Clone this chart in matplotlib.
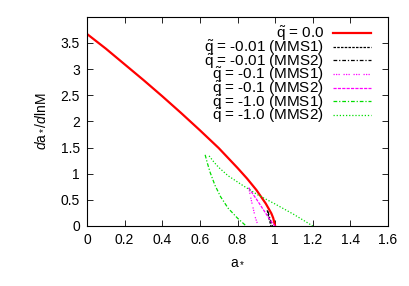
import matplotlib
matplotlib.use("Agg")
import matplotlib.pyplot as plt

plt.rcParams['font.family'] = ['Liberation Sans', 'DejaVu Sans']
plt.rcParams['mathtext.fontset'] = 'custom'
plt.rcParams['mathtext.rm'] = 'Liberation Sans'
plt.rcParams['mathtext.it'] = 'Liberation Sans:italic'

# q = 0.0
a_q0 = [0.0, 0.1, 0.2, 0.3, 0.4, 0.5, 0.6, 0.65, 0.7, 0.75, 0.8, 0.85, 0.9, 0.95, 0.98, 0.99, 1.0]
v_q0 = [3.67, 3.39, 3.09, 2.79, 2.48, 2.16, 1.83, 1.66, 1.49, 1.30, 1.11, 0.91, 0.69, 0.43, 0.24, 0.15, 0.0]

# q = -0.01
a_q001_m1 = [0.958, 0.965, 0.972, 0.978]
v_q001_m1 = [0.30, 0.18, 0.08, 0.0]
a_q001_m2 = [0.962, 0.970, 0.978, 0.986]
v_q001_m2 = [0.28, 0.17, 0.08, 0.0]

# q = -0.1
a_q01_m1 = [0.86, 0.868, 0.876, 0.885, 0.894, 0.91]
v_q01_m1 = [0.73, 0.58, 0.45, 0.31, 0.17, 0.0]
a_q01_m2 = [0.86, 0.88, 0.905, 0.925, 0.945, 0.965, 0.985, 1.0]
v_q01_m2 = [0.73, 0.62, 0.49, 0.38, 0.27, 0.16, 0.06, 0.0]

# q = -1.0
a_q1_m1 = [0.628, 0.64, 0.655, 0.68, 0.71, 0.75, 0.80, 0.846]
v_q1_m1 = [1.36, 1.20, 1.02, 0.78, 0.56, 0.34, 0.15, 0.0]
a_q1_m2 = [0.649, 0.675, 0.70, 0.75, 0.83, 0.91, 1.0, 1.1, 1.2]
v_q1_m2 = [1.34, 1.22, 1.12, 0.96, 0.77, 0.59, 0.42, 0.22, 0.0]

qt = r"$\tilde{\mathrm{q}}$"
labels = [f"{qt} = 0.0",
          f"{qt} = -0.01 (MMS1)", f"{qt} = -0.01 (MMS2)",
          f"{qt} = -0.1 (MMS1)", f"{qt} = -0.1 (MMS2)",
          f"{qt} = -1.0 (MMS1)", f"{qt} = -1.0 (MMS2)"]

fig = plt.figure(figsize=(4.09, 2.86), dpi=100)
ax = fig.add_axes([0.2127, 0.2098, 0.736, 0.7318])

ax.plot(a_q0, v_q0, color="#ff0000", lw=1.6, label=labels[0])
ax.plot(a_q001_m1, v_q001_m1, color="black", lw=0.9, ls=(0, (2, 1)), label=labels[1])
ax.plot(a_q001_m2, v_q001_m2, color="black", lw=0.9, ls=(0, (3, 1.5, 1, 1.5)), label=labels[2])
ax.plot(a_q01_m1, v_q01_m1, color="#ff00ff", lw=0.9, ls=(0, (1, 1, 1, 1, 1, 3)), label=labels[3])
ax.plot(a_q01_m2, v_q01_m2, color="#ff00ff", lw=0.9, ls=(0, (2.5, 1)), label=labels[4])
ax.plot(a_q1_m1, v_q1_m1, color="#00dd00", lw=0.9, ls=(0, (3, 1.5, 1, 1.5)), label=labels[5])
ax.plot(a_q1_m2, v_q1_m2, color="#00dd00", lw=0.9, ls=(0, (1, 1.5)), label=labels[6])

ax.set_xlim(0, 1.6)
ax.set_ylim(0, 4.0)
ax.set_xticks([0, 0.2, 0.4, 0.6, 0.8, 1.0, 1.2, 1.4, 1.6])
ax.set_xticklabels(["0", "0.2", "0.4", "0.6", "0.8", "1", "1.2", "1.4", "1.6"])
ax.set_yticks([0, 0.5, 1, 1.5, 2, 2.5, 3, 3.5])
ax.set_yticklabels(["0", "0.5", "1", "1.5", "2", "2.5", "3", "3.5"])
ax.tick_params(direction="in", top=True, right=True, labelsize=10, length=4, width=0.6, pad=5)
for s in ax.spines.values():
    s.set_linewidth(0.8)

ax.set_xlabel(r"a$_*$", fontsize=10, labelpad=5)
ax.set_ylabel(r"$d$a$_*$/$d$lnM", fontsize=10, labelpad=10)

ax.legend(loc="upper right", markerfirst=False, frameon=False, fontsize=11,
          handlelength=2.5, handletextpad=0.6, labelspacing=-0.34,
          borderaxespad=0.0, borderpad=0.2, bbox_to_anchor=(0.955, 0.978))

fig.savefig("out.png", dpi=100)
